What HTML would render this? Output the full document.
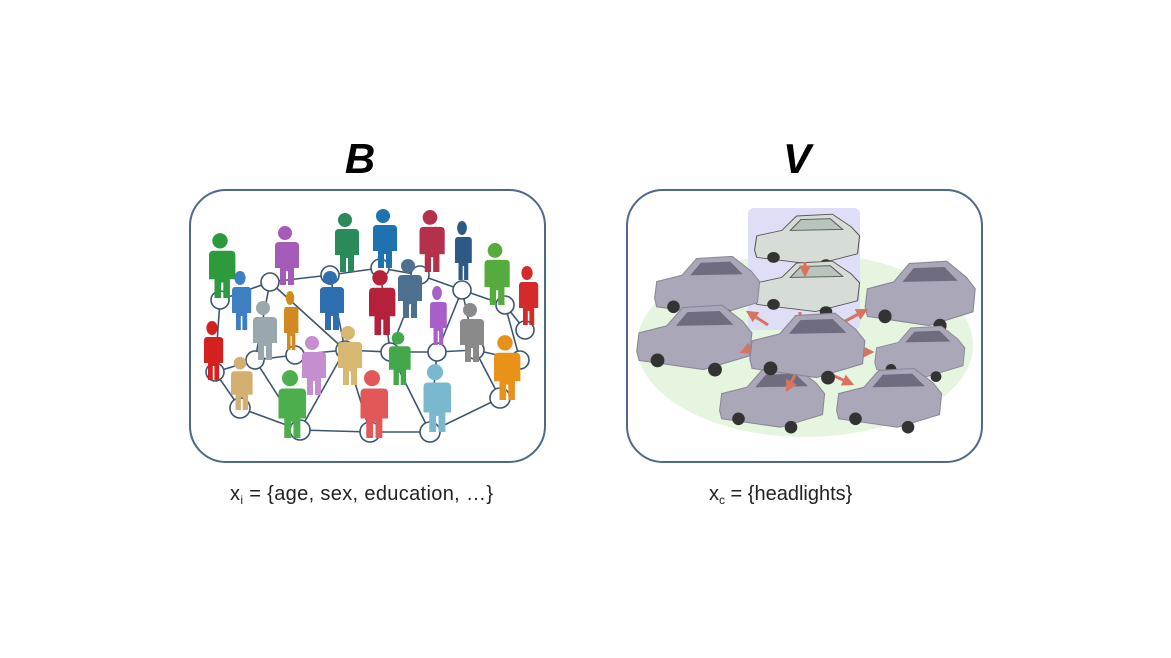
<!DOCTYPE html>
<html><head><meta charset="utf-8"><style>
body{margin:0;background:#fff;}
svg{display:block;}
</style></head><body>
<svg width="1171" height="658" viewBox="0 0 1171 658" xmlns="http://www.w3.org/2000/svg">
<defs>
<g id="p"><circle cx="0" cy="-52" r="7"/><path d="M-10,-43 h20 q4,0 4,4 v22 h-5 v17 h-6 v-14 h-2 v14 h-6 v-17 h-5 v-22 q0,-4 4,-4z"/></g>
<g id="car"><path d="M-48,8 l2,-16 l24,-6 l14,-16 l34,-2 l18,14 l8,10 l-2,20 l-40,12 l-56,-8 z" fill="#a9a7b8" stroke="#8a8898"/><path d="M-14,-14 l10,-12 l28,-1 l12,12 z" fill="#6e6c7e"/><circle cx="-30" cy="16" r="6" fill="#333"/><circle cx="20" cy="24" r="6" fill="#333"/></g>
<g id="wcar"><path d="M-48,8 l2,-16 l24,-6 l14,-16 l34,-2 l18,14 l8,10 l-2,20 l-40,12 l-56,-8 z" fill="#d6ddd6" stroke="#555"/><path d="M-14,-14 l10,-12 l28,-1 l12,12 z" fill="#b8c4bc" stroke="#555"/><circle cx="-30" cy="16" r="6" fill="#333"/><circle cx="20" cy="24" r="6" fill="#333"/></g>
<marker id="ah" viewBox="0 0 10 10" refX="8" refY="5" markerWidth="4" markerHeight="4" orient="auto"><path d="M0,0 L10,5 L0,10z" fill="#d8735f"/></marker>
</defs>
<text x="360" y="173" font-family="Liberation Sans,sans-serif" font-size="42" font-weight="bold" font-style="italic" text-anchor="middle">B</text>
<text x="797" y="173" font-family="Liberation Sans,sans-serif" font-size="42" font-weight="bold" font-style="italic" text-anchor="middle">V</text>
<rect x="190" y="190" width="355" height="272" rx="36" fill="#fff" stroke="#4d6a88" stroke-width="2"/>
<rect x="627" y="190" width="355" height="272" rx="36" fill="#fff" stroke="#4d6a88" stroke-width="2"/>
<g stroke="#3d5670" stroke-width="1.6" fill="none">
<polyline points="220,300 270,282 330,275 380,268 420,275 462,290 505,305 525,330"/>
<polyline points="215,372 255,360 295,355 345,350 390,352 437,352 475,350 520,360"/>
<polyline points="240,408 300,430 370,432 430,432 500,398"/>
<line x1="220" y1="300" x2="215" y2="372"/><line x1="270" y1="282" x2="255" y2="360"/><line x1="330" y1="275" x2="345" y2="350"/>
<line x1="380" y1="268" x2="390" y2="352"/><line x1="462" y1="290" x2="437" y2="352"/><line x1="505" y1="305" x2="520" y2="360"/>
<line x1="215" y1="372" x2="240" y2="408"/><line x1="255" y1="360" x2="300" y2="430"/><line x1="345" y1="350" x2="370" y2="432"/>
<line x1="390" y1="352" x2="430" y2="432"/><line x1="475" y1="350" x2="500" y2="398"/><line x1="270" y1="282" x2="345" y2="350"/>
<line x1="420" y1="275" x2="390" y2="352"/><line x1="462" y1="290" x2="475" y2="350"/><line x1="300" y1="430" x2="345" y2="350"/><line x1="430" y1="432" x2="437" y2="352"/>
</g>
<g fill="#fff" stroke="#3d5670" stroke-width="1.6">
<circle cx="220" cy="300" r="9"/><circle cx="270" cy="282" r="9"/><circle cx="330" cy="275" r="9"/><circle cx="380" cy="268" r="9"/><circle cx="420" cy="275" r="9"/><circle cx="462" cy="290" r="9"/><circle cx="505" cy="305" r="9"/><circle cx="525" cy="330" r="9"/>
<circle cx="215" cy="372" r="9"/><circle cx="255" cy="360" r="9"/><circle cx="295" cy="355" r="9"/><circle cx="345" cy="350" r="9"/><circle cx="390" cy="352" r="9"/><circle cx="437" cy="352" r="9"/><circle cx="475" cy="350" r="9"/><circle cx="520" cy="360" r="9"/>
<circle cx="240" cy="408" r="10"/><circle cx="300" cy="430" r="10"/><circle cx="370" cy="432" r="10"/><circle cx="430" cy="432" r="10"/><circle cx="500" cy="398" r="10"/>
</g>
<use href="#p" transform="translate(220,298) scale(1.1)" fill="#2e9a3e"/>
<use href="#p" transform="translate(285,285)" fill="#a55bb8"/>
<use href="#p" transform="translate(345,272)" fill="#2a8a5a"/>
<use href="#p" transform="translate(383,268)" fill="#1f72b0"/>
<use href="#p" transform="translate(430,272) scale(1.05)" fill="#b5304a"/>
<use href="#p" transform="translate(462,280) scale(0.7,1)" fill="#2d5a85"/>
<use href="#p" transform="translate(495,305) scale(1.05)" fill="#56ab3e"/>
<use href="#p" transform="translate(527,325) scale(0.8,1)" fill="#d52a2a"/>
<use href="#p" transform="translate(240,330) scale(0.8,1)" fill="#3d7fc0"/>
<use href="#p" transform="translate(263,360)" fill="#9aa8ad"/>
<use href="#p" transform="translate(290,350) scale(0.6,1)" fill="#d08a20"/>
<use href="#p" transform="translate(330,330)" fill="#2e6fb0"/>
<use href="#p" transform="translate(380,335) scale(1.1)" fill="#b5203a"/>
<use href="#p" transform="translate(408,318)" fill="#4d6f90"/>
<use href="#p" transform="translate(437,345) scale(0.7,1)" fill="#a860c8"/>
<use href="#p" transform="translate(470,362)" fill="#8a8a8a"/>
<use href="#p" transform="translate(212,380) scale(0.8,1)" fill="#d52020"/>
<use href="#p" transform="translate(240,410) scale(0.9)" fill="#d4b070"/>
<use href="#p" transform="translate(312,395)" fill="#c58ed0"/>
<use href="#p" transform="translate(348,385)" fill="#d8b870"/>
<use href="#p" transform="translate(398,385) scale(0.9)" fill="#43a84a"/>
<use href="#p" transform="translate(505,400) scale(1.1)" fill="#e8921a"/>
<use href="#p" transform="translate(290,438) scale(1.15)" fill="#4cae4c"/>
<use href="#p" transform="translate(372,438) scale(1.15)" fill="#e25858"/>
<use href="#p" transform="translate(435,432) scale(1.15)" fill="#7ab8d0"/>
<ellipse cx="805" cy="345" rx="168" ry="92" fill="#e6f5e0"/>
<rect x="748" y="208" width="112" height="122" rx="6" fill="#dedff7"/>
<use href="#wcar" transform="translate(805,243) scale(1.05,0.9)"/>
<use href="#wcar" transform="translate(805,290) scale(1.05,0.9)"/>
<use href="#car" transform="translate(705,290) scale(1.05,1.05)"/>
<use href="#car" transform="translate(692,342) scale(1.15)"/>
<use href="#car" transform="translate(918,298) scale(1.1,1.15)"/>
<use href="#car" transform="translate(918,355) scale(0.9)"/>
<use href="#car" transform="translate(770,402) scale(1.05)"/>
<use href="#car" transform="translate(887,402) scale(1.05)"/>
<g stroke="#d8735f" stroke-width="3" marker-end="url(#ah)">
<line x1="805" y1="262" x2="805" y2="275"/><line x1="800" y1="312" x2="800" y2="325"/>
<line x1="770" y1="340" x2="742" y2="352"/><line x1="768" y1="325" x2="748" y2="312"/>
<line x1="838" y1="325" x2="866" y2="310"/><line x1="845" y1="352" x2="872" y2="352"/>
<line x1="795" y1="375" x2="787" y2="390"/><line x1="832" y1="375" x2="852" y2="384"/>
</g>
<use href="#car" transform="translate(805,350) scale(1.15)"/>
<text x="230" y="500" font-family="Liberation Sans,sans-serif" font-size="20" fill="#222" textLength="263">x<tspan font-size="12" dy="4">i</tspan><tspan dy="-4"> = {age, sex, education, …}</tspan></text>
<text x="709" y="500" font-family="Liberation Sans,sans-serif" font-size="20" fill="#222">x<tspan font-size="12" dy="4">c</tspan><tspan dy="-4"> = {headlights}</tspan></text>
</svg>
</body></html>
